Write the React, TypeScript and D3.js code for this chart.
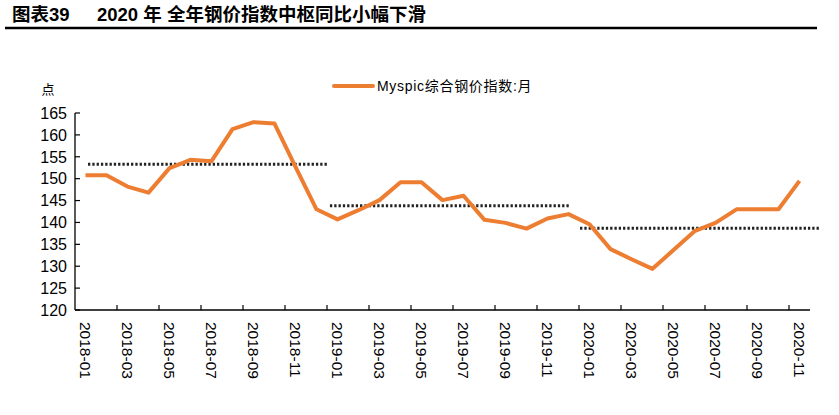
import * as d3 from 'd3';

const months = [
  '2018-01', '2018-02', '2018-03', '2018-04', '2018-05', '2018-06',
  '2018-07', '2018-08', '2018-09', '2018-10', '2018-11', '2018-12',
  '2019-01', '2019-02', '2019-03', '2019-04', '2019-05', '2019-06',
  '2019-07', '2019-08', '2019-09', '2019-10', '2019-11', '2019-12',
  '2020-01', '2020-02', '2020-03', '2020-04', '2020-05', '2020-06',
  '2020-07', '2020-08', '2020-09', '2020-10', '2020-11',
];

// Myspic综合钢价指数:月
const steelIndex = [
  150.8, 150.8, 148.2, 146.8, 152.4, 154.3, 154.0, 161.3, 162.9, 162.6, 152.7, 143.0,
  140.7, 142.8, 145.1, 149.2, 149.2, 145.1, 146.1, 140.6, 139.9, 138.6, 140.9, 141.9,
  139.6, 133.9, 131.6, 129.4, 133.7, 138.0, 139.9, 143.0, 143.0, 143.0, 149.5,
];

// yearly averages (dotted), span given in month units along the axis
const avgValues = [153.3, 143.8, 138.7];
const avgFrom = [0.62, 12.14, 24.05];
const avgTo = [12.05, 23.52, 35.43];

const yTicks = [120, 125, 130, 135, 140, 145, 150, 155, 160, 165];

const W = 839;
const H = 415;
const FONT = "'Liberation Sans', Arial, 'Noto Sans CJK SC', sans-serif";
const ORANGE = '#ED7D31';

export default function App() {
  const x = d3.scaleBand<string>().domain(months).range([75, 810]).padding(0);
  const xi = d3.scaleLinear().domain([0, months.length]).range([75, 810]);
  const y = d3.scaleLinear().domain([120, 165]).range([310, 113]);
  const bw = x.bandwidth();

  const line = d3.line<number>()
    .x((_, i) => (x(months[i]) as number) + bw / 2)
    .y(d => y(d));

  const tickIdx = d3.range(2, months.length, 2);

  return (
    <svg width={W} height={H} style={{ position: 'absolute', left: 0, top: 0, background: '#fff' }}
      fontFamily={FONT}>
      {/* title */}
      <text x={12} y={21} fontSize={18.5} fontWeight="bold" fill="#000">图表39</text>
      <text x={97} y={21} fontSize={18.5} fontWeight="bold" fill="#000">2020 年 全年钢价指数中枢同比小幅下滑</text>
      <line x1={5} x2={817} y1={28} y2={28} stroke="#000" strokeWidth={2.4} />

      {/* legend */}
      <line x1={334} x2={373} y1={86} y2={86} stroke={ORANGE} strokeWidth={4} strokeLinecap="round" />
      <text x={377} y={91} fontSize={14} fill="#000" letterSpacing={0.7}>Myspic综合钢价指数:月</text>

      {/* unit */}
      <text x={48} y={94} fontSize={13} fill="#000" textAnchor="middle">点</text>

      {/* y axis */}
      <line x1={75} x2={75} y1={y(165)} y2={y(120)} stroke="#000" strokeWidth={1.3} />
      {yTicks.map(t => (
        <g key={t}>
          <line x1={75} x2={80} y1={y(t)} y2={y(t)} stroke="#000" strokeWidth={1.2} />
          <text x={67} y={y(t)} dy="0.36em" fontSize={16} textAnchor="end" fill="#000">{t}</text>
        </g>
      ))}

      {/* x axis */}
      <line x1={75} x2={810} y1={y(120)} y2={y(120)} stroke="#000" strokeWidth={1.3} />
      {tickIdx.map(i => (
        <line key={i} x1={xi(i)} x2={xi(i)} y1={y(120)} y2={y(120) - 5} stroke="#000" strokeWidth={1.2} />
      ))}
      {months.map((m, i) => i % 2 === 0 ? (
        <text key={m} transform={`translate(${(x(m) as number) + bw / 2},322) rotate(90)`}
          fontSize={15.5} dy="0.35em" fill="#000">{m}</text>
      ) : null)}

      {/* yearly average dotted lines */}
      {avgValues.map((v, i) => (
        <line key={i} x1={xi(avgFrom[i])} x2={xi(avgTo[i])} y1={y(v)} y2={y(v)}
          stroke="#222" strokeWidth={3} strokeDasharray="2.3 2" />
      ))}

      {/* index line */}
      <path d={line(steelIndex) ?? ''} fill="none" stroke={ORANGE} strokeWidth={4} strokeLinejoin="round" />
    </svg>
  );
}
